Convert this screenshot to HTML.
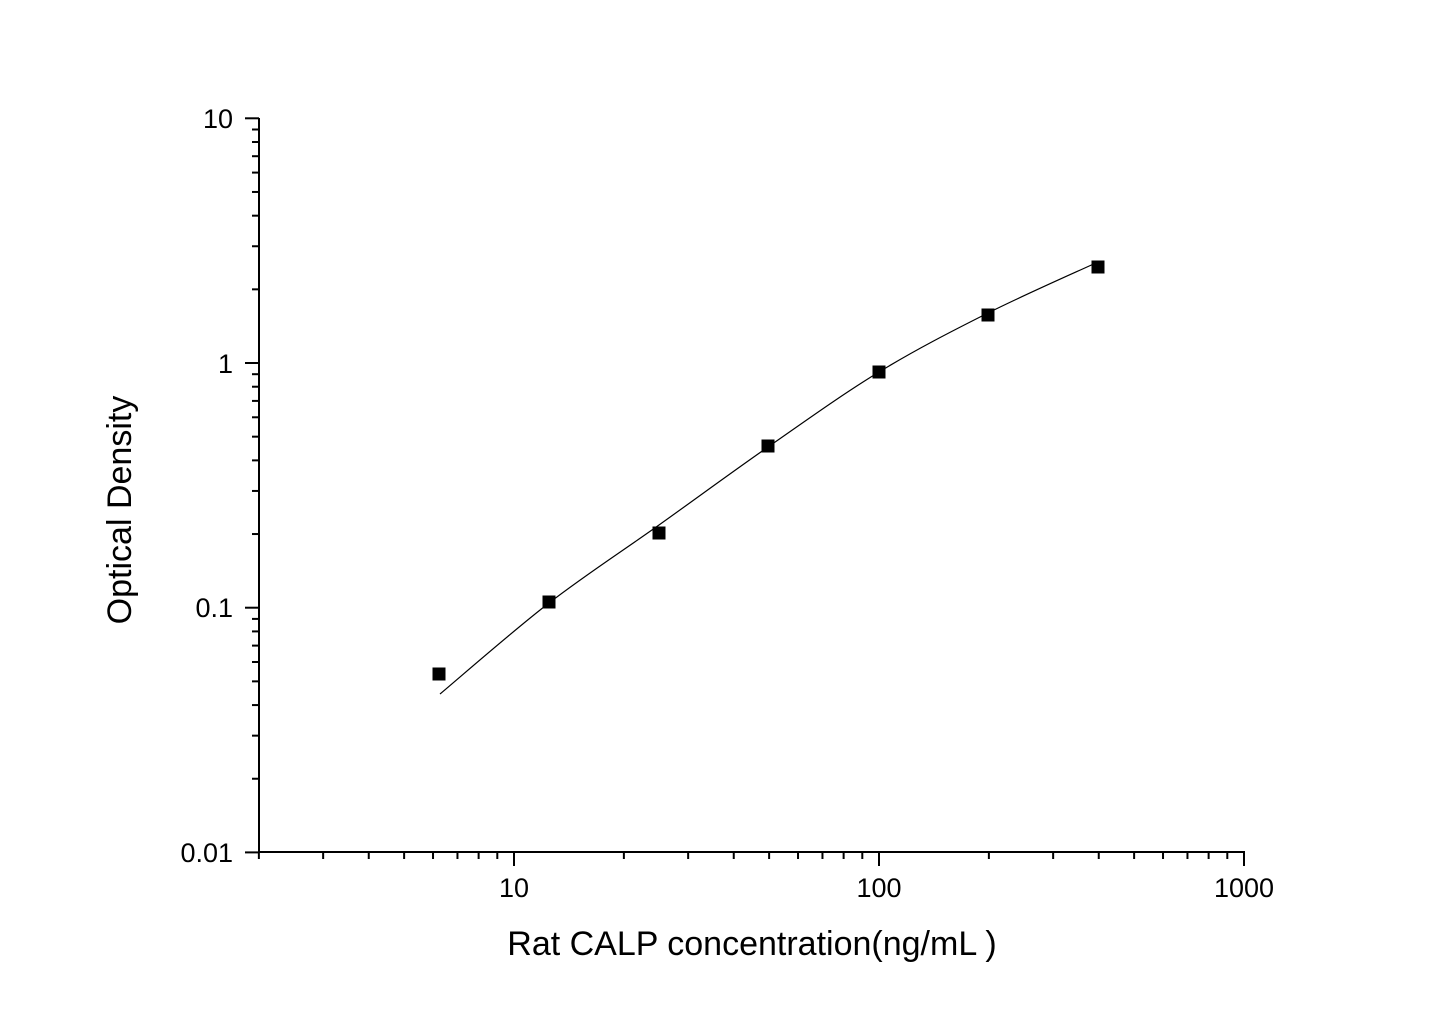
<!DOCTYPE html>
<html><head><meta charset="utf-8"><style>
html,body{margin:0;padding:0;background:#fff;}
svg{display:block;font-family:"Liberation Sans",Arial,sans-serif;}
</style></head><body>
<svg id="s" width="1445" height="1021" xmlns="http://www.w3.org/2000/svg">
<rect width="1445" height="1021" fill="#fff"/>
<g id="ax" stroke="#000" stroke-width="2" fill="none">
<line x1="259" y1="118" x2="259" y2="852"/>
<line x1="259" y1="852" x2="1245" y2="852"/>
</g>
<g font-size="27" fill="#000">
<text x="233" y="128" text-anchor="end">10</text>
<text x="233" y="373" text-anchor="end">1</text>
<text x="233" y="617" text-anchor="end">0.1</text>
<text x="233" y="862" text-anchor="end">0.01</text>
<text x="514" y="897" text-anchor="middle">10</text>
<text x="879" y="897" text-anchor="middle">100</text>
<text x="1244" y="897" text-anchor="middle">1000</text>
</g>
<text x="752" y="955" font-size="34" text-anchor="middle">Rat CALP concentration(ng/mL )</text>
<text transform="translate(131,510) rotate(-90)" font-size="34" text-anchor="middle">Optical Density</text>
<path id="curve" fill="none" stroke="#000" stroke-width="1.2"/>
<g id="pts" fill="#000"></g>
</svg>
<script>
var ns="http://www.w3.org/2000/svg",ax=document.getElementById('ax');
function L(x1,y1,x2,y2){var l=document.createElementNS(ns,'line');l.setAttribute('x1',x1);l.setAttribute('y1',y1);l.setAttribute('x2',x2);l.setAttribute('y2',y2);ax.appendChild(l);}
var X0=514,XD=365,Y0=363,YD=244.7;
function px(v){return X0+XD*(Math.log10(v)-1);}
function py(v){return Y0-YD*Math.log10(v);}
for(var d=0;d<3;d++){for(var m=1;m<10;m++){var v=Math.pow(10,d)*m;if(v<2)continue;var x=px(v);L(x,852,x,m==1?866:859);}}
L(px(1000),852,px(1000),866);
for(var d=-2;d<1;d++){for(var m=1;m<10;m++){var v=Math.pow(10,d)*m;var y=py(v);L(259,y,m==1?245:252,y);}}
L(259,py(10),245,py(10));
var P=[[440,694],[549,603],[659,525],[768,447],[879,372],[988,313],[1098,262]];
var d="M"+P[0];
for(var i=0;i<P.length-1;i++){var p0=P[i-1]||P[i],p1=P[i],p2=P[i+1],p3=P[i+2]||p2;
d+=" C"+(p1[0]+(p2[0]-p0[0])/6)+","+(p1[1]+(p2[1]-p0[1])/6)+" "+(p2[0]-(p3[0]-p1[0])/6)+","+(p2[1]-(p3[1]-p1[1])/6)+" "+p2;}
document.getElementById('curve').setAttribute('d',d);
var D=[[439,674],[549,602],[659,533],[768,446],[879,372],[988,315],[1098,267]],g=document.getElementById('pts');
D.forEach(function(p){var r=document.createElementNS(ns,'rect');r.setAttribute('x',p[0]-6.5);r.setAttribute('y',p[1]-6.5);r.setAttribute('width',13);r.setAttribute('height',13);g.appendChild(r);});
</script>
</body></html>
